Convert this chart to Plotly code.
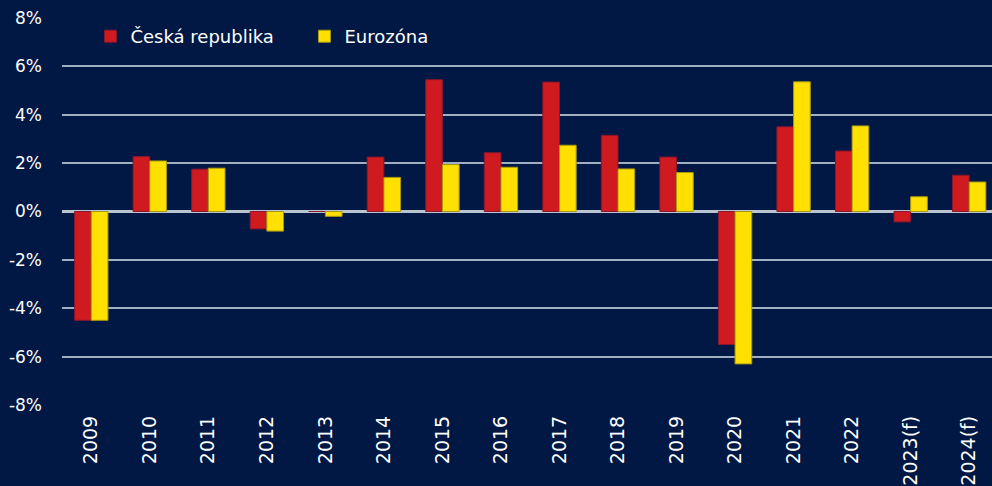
import plotly.graph_objects as go

years = ["2009", "2010", "2011", "2012", "2013", "2014", "2015", "2016",
         "2017", "2018", "2019", "2020", "2021", "2022", "2023(f)", "2024(f)"]
cz = [-4.5, 2.27, 1.75, -0.72, 0.0, 2.25, 5.45, 2.43, 5.35, 3.15, 2.25, -5.5, 3.5, 2.5, -0.43, 1.5]
ez = [-4.5, 2.09, 1.79, -0.81, -0.2, 1.41, 1.94, 1.83, 2.74, 1.76, 1.61, -6.3, 5.36, 3.54, 0.61, 1.22]
yticks = [-8, -6, -4, -2, 0, 2, 4, 6, 8]
ytick_labels = ["-8%", "-6%", "-4%", "-2%", "0%", "2%", "4%", "6%", "8%"]

BG = "#001843"
FONT = "DejaVu Sans"

fig = go.Figure()
fig.add_trace(go.Bar(x=years, y=cz, name="Česká republika",
                     marker=dict(color="#CF1A1F", line=dict(color="#8A1630", width=1))))
fig.add_trace(go.Bar(x=years, y=ez, name="Eurozóna",
                     marker=dict(color="#FFE000", line=dict(color="#A89A10", width=1))))

fig.update_layout(
    width=992, height=486,
    paper_bgcolor=BG, plot_bgcolor=BG,
    margin=dict(l=62, r=0, t=18, b=81),
    barmode="group", bargap=0.43, bargroupgap=0,
    font=dict(family=FONT, color="white", size=16),
    showlegend=True,
    legend=dict(orientation="h", x=0.0306, y=1.0, xanchor="left", yanchor="top",
                bgcolor="rgba(0,0,0,0)", font=dict(size=18, color="white"),
                itemwidth=30, traceorder="normal",
                entrywidth=169, entrywidthmode="pixels"),
    xaxis=dict(type="category", range=[-0.5, 15.39], tickangle=-90,
               showgrid=False, ticks="", tickfont=dict(size=19, color="white"),
               showline=False, zeroline=False, ticklabelstandoff=6),
    yaxis=dict(range=[-8, 8], tickvals=yticks, ticktext=ytick_labels,
               showgrid=True, gridcolor="#9FB0C2", gridwidth=1.5,
               zeroline=True, zerolinecolor="#B8C4CF", zerolinewidth=2.5,
               tickfont=dict(size=17, color="white"), ticks="", ticklabelstandoff=19),
)

fig.write_html("out.html", config={"displayModeBar": False},
               post_script="document.body.style.margin='0';document.body.style.background='%s';" % BG)
